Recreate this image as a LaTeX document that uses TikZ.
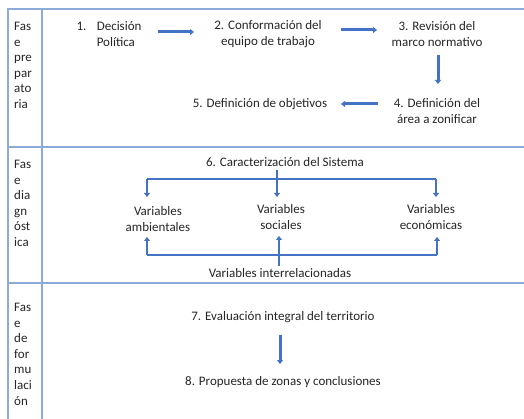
\documentclass[tikz,border=0pt]{standalone}
\usepackage{fontspec}
\setmainfont{Carlito}
\usetikzlibrary{arrows.meta}
\definecolor{gridc}{HTML}{8EAADB}
\definecolor{arrc}{HTML}{4472C4}
\begin{document}
\begin{tikzpicture}[x=1pt,y=-1pt,
  txt/.style={font=\fontsize{13}{15.6}\selectfont, align=center, inner sep=0pt, text=black!85},
  phase/.style={font=\fontsize{13}{15.6}\selectfont, align=left, inner sep=0pt, anchor=north west, text=black!85},
  grid/.style={draw=gridc, line width=1.2pt},
  fat/.style={draw=arrc, line width=3pt, -{Triangle[length=4pt,width=6pt]}},
  thin/.style={draw=arrc, line width=2pt},
  thinarr/.style={draw=arrc, line width=2pt, -{Triangle[length=4pt,width=6pt]}}]
\useasboundingbox (0,0) rectangle (524,419);
\fill[white] (0,0) rectangle (524,419);
% grid
\draw[grid] (524,9) -- (8,9) -- (8,419);
\draw[grid] (42,9) -- (42,419);
\draw[grid] (8,147) -- (524,147);
\draw[grid] (8,283) -- (524,283);
% phase labels
\node[phase] (p1) at (14,22) {Fas\\e\\pre\\par\\ato\\ria};
\node[phase] (p2) at (14,160) {Fas\\e\\dia\\gn\\óst\\ica};
\node[phase] (p3) at (14,303) {Fas\\e\\de\\for\\mu\\laci\\ón};
% phase 1
\node[txt, align=left] (n1) at (109,34) {1.\hspace{0.8em}Decisión\\\hphantom{1.\hspace{0.8em}}Política};
\node[txt] (n2) at (268,34) {2. Conformación del\\equipo de trabajo};
\node[txt] (n3) at (437,34) {3. Revisión del\\marco normativo};
\node[txt] (n4) at (437,111) {4. Definición del\\área a zonificar};
\node[txt] (n5) at (260,104) {5. Definición de objetivos};
\coordinate (a1s) at (158,32); \coordinate (a1e) at (194,32);
\coordinate (a2s) at (341,30); \coordinate (a2e) at (377,30);
\coordinate (a3s) at (438,55); \coordinate (a3e) at (438,84);
\coordinate (a4s) at (378,104); \coordinate (a4e) at (341,104);
\draw[fat] (a1s) -- (a1e);
\draw[fat] (a2s) -- (a2e);
\draw[fat] (a3s) -- (a3e);
\draw[fat] (a4s) -- (a4e);
% phase 2
\node[txt] (n6) at (285,162) {6. Caracterización del Sistema};
\node[txt] (va) at (158,219) {Variables\\ambientales};
\node[txt] (vs) at (281,217) {Variables\\sociales};
\node[txt] (ve) at (431,217) {Variables\\económicas};
\node[txt] (vi) at (280,273) {Variables interrelacionadas};
\coordinate (t0) at (277,170);
\coordinate (tl) at (147,179); \coordinate (tm) at (277,179); \coordinate (tr) at (436,179);
\draw[thin] (t0) -- (tm);
\draw[thin] (tl) -- (tr);
\draw[thinarr] (tl) -- (147,197);
\draw[thinarr] (tm) -- (277,197);
\draw[thinarr] (tr) -- (436,197);
\coordinate (b0) at (279,266);
\coordinate (bl) at (147,255); \coordinate (bm) at (279,255); \coordinate (br) at (437,255);
\draw[thin] (b0) -- (bm);
\draw[thin] (bl) -- (br);
\draw[thinarr] (bl) -- (147,237);
\draw[thinarr] (bm) -- (279,236);
\draw[thinarr] (br) -- (437,237);
% phase 3
\node[txt] (n7) at (283,317) {7. Evaluación integral del territorio};
\node[txt] (n8) at (283,382) {8. Propuesta de zonas y conclusiones};
\draw[fat] (280,335) -- (280,364);
\end{tikzpicture}
\end{document}
